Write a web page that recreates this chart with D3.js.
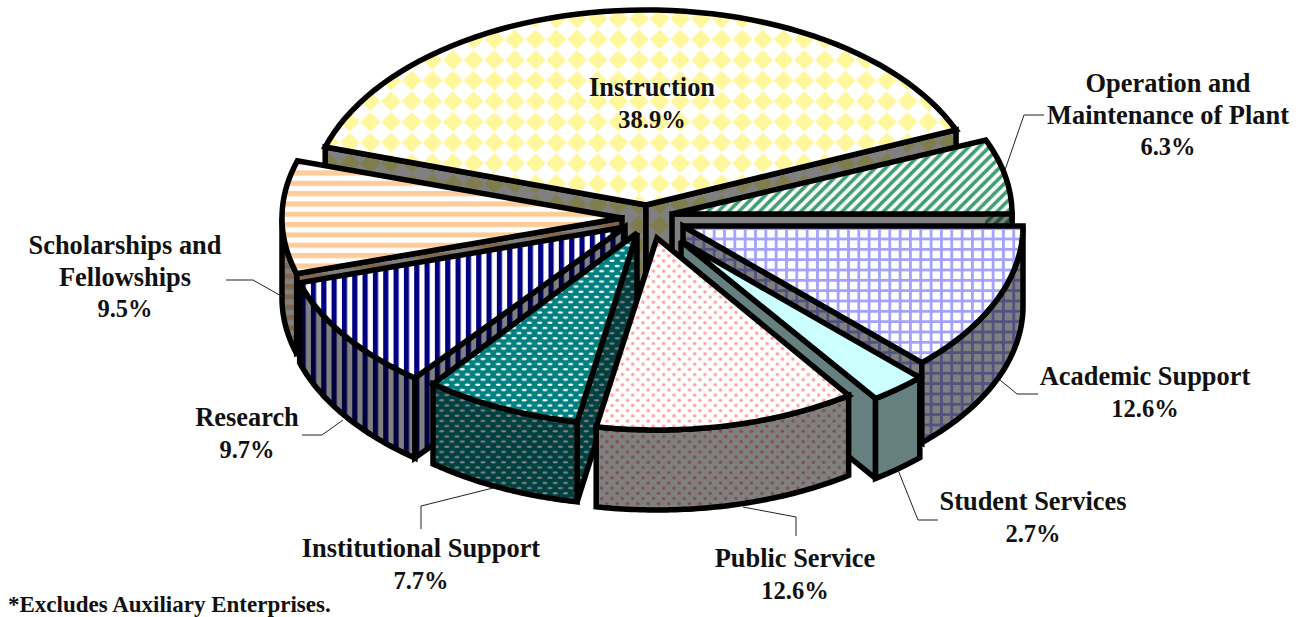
<!DOCTYPE html>
<html><head><meta charset="utf-8">
<script src="https://cdn.jsdelivr.net/npm/d3@7/dist/d3.min.js"></script>
<style>html,body{margin:0;padding:0;background:#fff;overflow:hidden}svg{display:block}
text{font-family:"Liberation Serif",serif;font-weight:bold;fill:#111}</style>
</head><body><div id="c"></div>
<script>
// ---- data ----
const categories = ["Instruction","Operation and Maintenance of Plant","Academic Support","Student Services","Public Service","Institutional Support","Research","Scholarships and Fellowships"];
const values = [38.9,6.3,12.6,2.7,12.6,7.7,9.7,9.5];
const labelLines = [["Instruction"],["Operation and","Maintenance of Plant"],["Academic Support"],["Student Services"],["Public Service"],["Institutional Support"],["Research"],["Scholarships and","Fellowships"]];
const footnote = "*Excludes Auxiliary Enterprises.";

// ---- layout and style ----
const W=1302,H=617,DEPTH=80,STROKE=5.5,P=10.33;
const startAngle=-72.7*Math.PI/180;
const apexes=[[646,205],[672,214],[683,226],[681,241],[657,238],[637,233],[625,227],[622,218]];
const radiiX=[336,340,340,340,335,330,340,340];
const radiiY=[195,192,192,192,192,192,192,192];
const paintOrder=[0,1,7,2,6,3,5,4];
const labelPos=[[652,96],[1168,92],[1145,385],[1033,510],[795,567],[421,557],[247,426],[125,254]];
const leaders=[null,[[1005,170],[1024,115],[1044,115]],[[1000,380],[1017,394],[1038,394]],[[898,470],[918,520],[938,520]],[[743,507],[796,517],[796,536]],[[493,488],[421,506],[421,529]],[[343,420],[322,435],[302,435]],[[283,297],[253,280],[226,280]]];
const fgColors=["#FEF79B","#3F9F72","#A3A3FF","#CCFFFF","#FFA0A0","#008080","#000080","#FFCC99"];
const kinds=["diamond","diagonal","grid","solid","dots","holes","vstripe","hstripe"];

const svg=d3.select("#c").append("svg").attr("width",W).attr("height",H);
const defs=svg.append("defs");
const half=c=>{const r=d3.rgb(c);return d3.rgb(r.r/2,r.g/2,r.b/2).formatHex()};

function makePattern(id,kind,fg,bg,holeColor){
  const p=defs.append("pattern").attr("id",id).attr("patternUnits","userSpaceOnUse");
  const rect=(x,y,w,h,f)=>p.append("rect").attr("x",x).attr("y",y).attr("width",w).attr("height",h).attr("fill",f);
  const size=(w,h)=>{p.attr("width",w).attr("height",h);rect(0,0,w,h,bg)};
  if(kind==="diamond"){
    const s=2*P,e=0.4;size(s,s);
    p.append("path").attr("fill",fg).attr("d",`M${s/2} ${e}L${s-e} ${s/2}L${s/2} ${s-e}L${e} ${s/2}Z`);
    p.attr("x",8.83).attr("y",8.31);
  } else if(kind==="diagonal"){
    size(P,P);
    p.append("path").attr("stroke",fg).attr("stroke-width",3.6).attr("d",`M${-P/2} ${P/2}L${P/2} ${-P/2}M0 ${P}L${P} 0M${P/2} ${1.5*P}L${1.5*P} ${P/2}`);
  } else if(kind==="grid"){
    size(P,P);rect(0,0,P,2.8,fg);rect(0,0,2.8,P,fg);
  } else if(kind==="dots"){
    size(P,P);
    [[P/4,P/4],[3*P/4,3*P/4]].forEach(d=>{
      p.append("circle").attr("cx",d[0]).attr("cy",d[1]).attr("r",1.75).attr("fill",fg);
    });
  } else if(kind==="holes"){
    size(P,P);
    [[P/4,P/4],[3*P/4,3*P/4]].forEach(d=>{
      p.append("ellipse").attr("cx",d[0]).attr("cy",d[1]).attr("rx",2.6).attr("ry",1.15).attr("fill",holeColor);
    });
  } else if(kind==="vstripe"){
    size(P,P);rect(0,0,P/2,P,fg);p.attr("x",1);
  } else if(kind==="hstripe"){
    size(P,P);rect(0,0,P,P/2,fg);p.attr("y",5.1);
  }
}
const topFill=[],wallFill=[];
kinds.forEach((k,i)=>{
  if(k==="solid"){topFill[i]=fgColors[i];wallFill[i]="#668080";return;}
  if(k==="holes"){
    makePattern("t"+i,k,null,fgColors[i],"#fff");
    makePattern("w"+i,k,null,half(fgColors[i]),"#808080");
  } else {
    makePattern("t"+i,k,fgColors[i],"#fff");
    makePattern("w"+i,k,half(fgColors[i]),"#808080");
  }
  topFill[i]=`url(#t${i})`;wallFill[i]=`url(#w${i})`;
});

const pie=d3.pie().sort(null).value(d=>d).startAngle(startAngle).endAngle(startAngle+2*Math.PI);
const arcs=pie(values);
const line=d3.line();

function paint(points,fill,g,stroke){
  g.append("path").attr("d",line(points)+"Z").attr("fill",fill).attr("stroke",stroke===false?"none":"#000")
   .attr("stroke-width",STROKE).attr("stroke-linejoin","miter").attr("stroke-miterlimit",2.2);
}
const g=svg.append("g");
paintOrder.forEach(i=>{
  const a=arcs[i],[cx,cy]=apexes[i],rx=radiiX[i],ry=radiiY[i];
  const pt=(t,dy=0)=>[cx+rx*Math.sin(t),cy-ry*Math.cos(t)+dy];
  const sample=(a0,a1)=>d3.range(0,61).map(k=>a0+(a1-a0)*k/60);
  const sg=g.append("g").attr("class","slice").attr("data-name",categories[i]);
  // radial faces facing the viewer
  if(Math.sin(a.startAngle)<0) paint([[cx,cy],pt(a.startAngle),pt(a.startAngle,DEPTH),[cx,cy+DEPTH]],wallFill[i],sg);
  if(Math.sin(a.endAngle)>0){
    paint([[cx,cy],pt(a.endAngle),pt(a.endAngle,DEPTH),[cx,cy+DEPTH]],i===1?"#808080":wallFill[i],sg);
    if(i===1){const e=pt(a.endAngle);paint([[e[0]-27,cy+2],[e[0]-2,cy+2],[e[0]-2,cy+10],[e[0]-27,cy+10]],wallFill[i],sg,false);}
  }
  // outer wall: the part of the rim on the near half of the ellipse
  const w0=Math.max(a.startAngle,Math.PI/2),w1=Math.min(a.endAngle,1.5*Math.PI);
  if(w1>w0){
    const s=sample(w0,w1);
    paint([...s.map(t=>pt(t)),...s.slice().reverse().map(t=>pt(t,DEPTH))],wallFill[i],sg);
  }
  // top face
  paint([[cx,cy],...sample(a.startAngle,a.endAngle).map(t=>pt(t))],topFill[i],sg);
});

// leaders
leaders.forEach(l=>{ if(l) svg.append("path").attr("d",line(l)).attr("fill","none").attr("stroke","#222").attr("stroke-width",1);});

// labels
const FS=26.4,FSP=24.5,LH=31.7;
labelLines.forEach((lines,i)=>{
  const t=svg.append("text").attr("text-anchor","middle").attr("font-size",FS);
  [...lines,values[i].toFixed(1)+"%"].forEach((s,k)=>{
    t.append("tspan").attr("x",labelPos[i][0]).attr("y",labelPos[i][1]+k*LH)
     .attr("font-size",k===lines.length?FSP:FS).text(s);
  });
});
svg.append("text").attr("x",8).attr("y",612).attr("font-size",23).text(footnote);
</script></body></html>
